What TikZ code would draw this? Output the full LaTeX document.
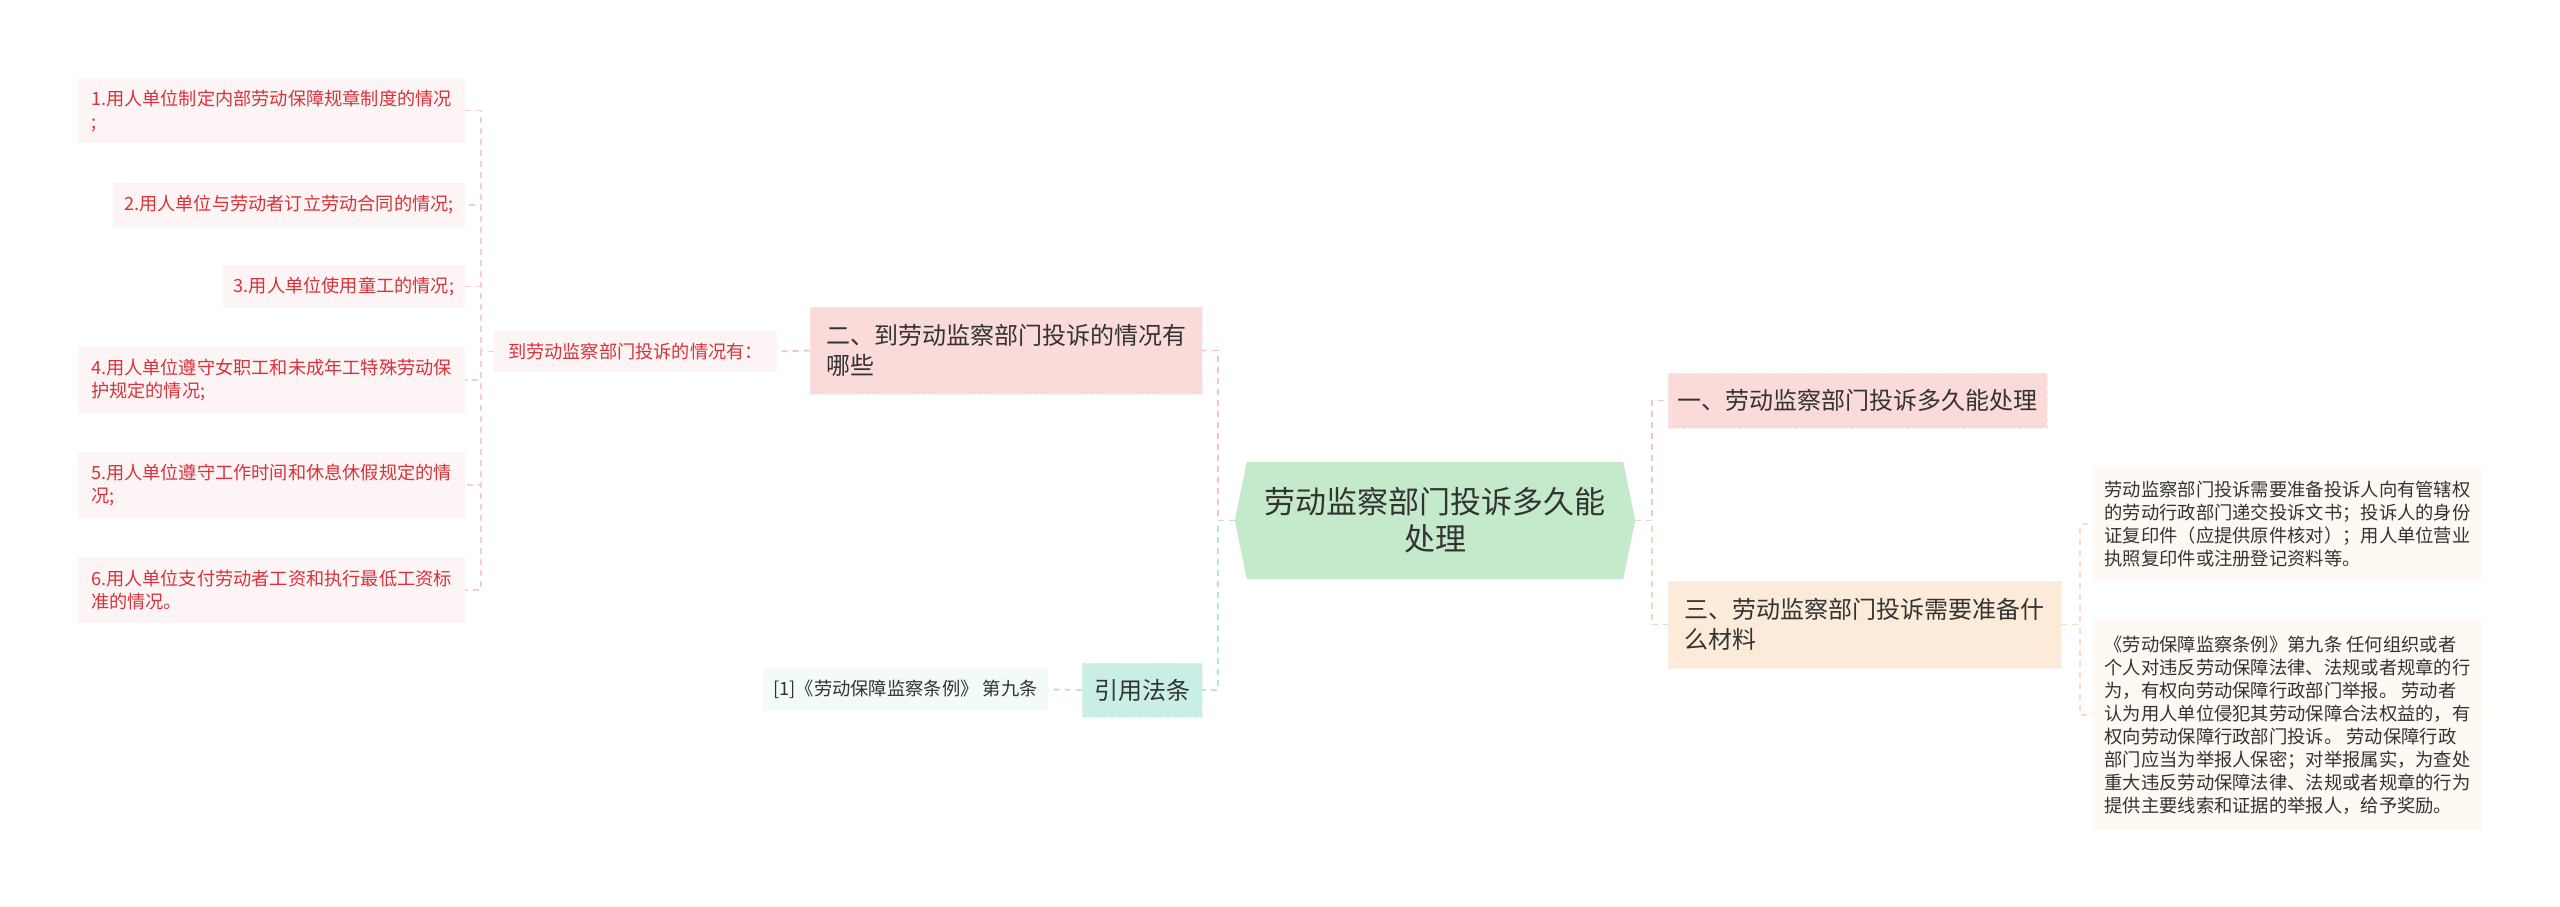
\documentclass[tikz,border=0pt]{standalone}
\usepackage{fontspec}
\newfontfamily\cjk{Noto Sans CJK SC}
\usetikzlibrary{calc,backgrounds}
\definecolor{centerfill}{HTML}{C5EACB}
\definecolor{pinkfill}{HTML}{FBDADA}
\definecolor{peachfill}{HTML}{FDEBD9}
\definecolor{tealfill}{HTML}{C9EEE6}
\definecolor{leafpink}{HTML}{FDF5F5}
\definecolor{leafteal}{HTML}{F2FBF9}
\definecolor{cream}{HTML}{FEFAF3}
\definecolor{leafred}{HTML}{D9323A}
\definecolor{darktext}{HTML}{333333}
\definecolor{pinkline}{HTML}{F2C3C5}
\definecolor{tealline}{HTML}{B9E4DC}
\definecolor{peachline}{HTML}{F7D4BD}
\begin{document}
\begin{tikzpicture}[x=1pt,y=-1pt,
  box/.style={inner sep=0pt, align=left, text=darktext},
  leafL/.style={box, fill=leafpink, text=leafred, font=\cjk\fontsize{18.2}{23}\selectfont},
  leafR/.style={box, fill=cream, font=\cjk\fontsize{18.3}{23}\selectfont},
  mainbox/.style={box, font=\cjk\fontsize{24}{30}\selectfont, draw=#1!92!black!40!white, dashed, dash pattern=on 4pt off 3pt, line width=0.6pt},
  conn/.style={line width=1.8pt, dash pattern=on 6pt off 5pt},
]
\begin{scope}[on background layer]
\fill[white] (0,0) rectangle (2560,907);
\end{scope}
\useasboundingbox (0,0) rectangle (2560,907);

% center
\node[box, font=\cjk\fontsize{31}{37}\selectfont, align=center, minimum width=400pt, minimum height=117pt] (c) at (1435,520.5) {劳动监察部门投诉多久能\\处理};
\begin{scope}[on background layer]
\fill[centerfill] (c.west) -- ($(c.north west)+(12,0)$) -- ($(c.north east)+(-12,0)$) -- (c.east) -- ($(c.south east)+(-12,0)$) -- ($(c.south west)+(12,0)$) -- cycle;
\end{scope}

% left main branches
\node[mainbox=pinkfill, fill=pinkfill, minimum width=392pt, minimum height=87pt] (er) at (1006,350.5) {二、到劳动监察部门投诉的情况有\\哪些};
\node[mainbox=tealfill, fill=tealfill, minimum width=120pt, minimum height=54pt] (yy) at (1142,690) {引用法条};

\node[leafL, minimum width=283pt, minimum height=41pt] (dao) at (635.5,351.5) {到劳动监察部门投诉的情况有：};
\node[box, fill=leafteal, font=\cjk\fontsize{18.3}{23}\selectfont, minimum width=285pt, minimum height=43pt] (ref) at (905.5,689.5) {[1]《劳动保障监察条例》 第九条};

\node[leafL, minimum width=387pt, minimum height=65pt] (l1) at (271.5,110.5) {1.用人单位制定内部劳动保障规章制度的情况\\;};
\node[leafL, minimum width=352pt, minimum height=44pt] (l2) at (289,205) {2.用人单位与劳动者订立劳动合同的情况;};
\node[leafL, minimum width=242pt, minimum height=43pt] (l3) at (344,286.5) {3.用人单位使用童工的情况;};
\node[leafL, minimum width=387pt, minimum height=66pt] (l4) at (271.5,380) {4.用人单位遵守女职工和未成年工特殊劳动保\\护规定的情况;};
\node[leafL, minimum width=387pt, minimum height=66pt] (l5) at (271.5,485) {5.用人单位遵守工作时间和休息休假规定的情\\况;};
\node[leafL, minimum width=387pt, minimum height=66pt] (l6) at (271.5,590) {6.用人单位支付劳动者工资和执行最低工资标\\准的情况。};

% right main branches
\node[mainbox=pinkfill, fill=pinkfill, minimum width=379pt, minimum height=55pt] (yi) at (1857.5,400.5) {一、劳动监察部门投诉多久能处理};
\node[mainbox=peachfill, fill=peachfill, minimum width=393pt, minimum height=87pt] (san) at (1864.5,624.5) {三、劳动监察部门投诉需要准备什\\么材料};

\node[leafR, minimum width=389pt, minimum height=112pt] (r1) at (2287.5,524) {劳动监察部门投诉需要准备投诉人向有管辖权\\的劳动行政部门递交投诉文书；投诉人的身份\\证复印件（应提供原件核对）；用人单位营业\\执照复印件或注册登记资料等。};
\node[leafR, minimum width=389pt, minimum height=210pt] (r2) at (2287.5,725) {《劳动保障监察条例》第九条 任何组织或者\\个人对违反劳动保障法律、法规或者规章的行\\为，有权向劳动保障行政部门举报。 劳动者\\认为用人单位侵犯其劳动保障合法权益的，有\\权向劳动保障行政部门投诉。 劳动保障行政\\部门应当为举报人保密；对举报属实，为查处\\重大违反劳动保障法律、法规或者规章的行为\\提供主要线索和证据的举报人，给予奖励。};

% connectors
\draw[conn, pinkline] (c.west) -- ++(-17,0) |- (er.east);
\draw[conn, tealline] (c.west) -- ++(-17,0) |- (yy.east);
\draw[conn, pinkline] (er.west) -- (dao.east);
\draw[conn, tealline] (yy.west) -- (ref.east);
\foreach \n in {l1,l2,l3,l4,l5,l6}{
  \draw[conn, pinkline!80!white] (dao.west) -- ++(-13,0) |- (\n.east);
}
\draw[conn, pinkline] (c.east) -- ++(17,0) |- (yi.west);
\draw[conn, peachline] (c.east) -- ++(17,0) |- (san.west);
\draw[conn, peachline!80!white] (san.east) -- ++(19,0) |- (r1.west);
\draw[conn, peachline!80!white] (san.east) -- ++(19,0) |- ($(r2.west)+(0,-10)$);
\end{tikzpicture}
\end{document}
